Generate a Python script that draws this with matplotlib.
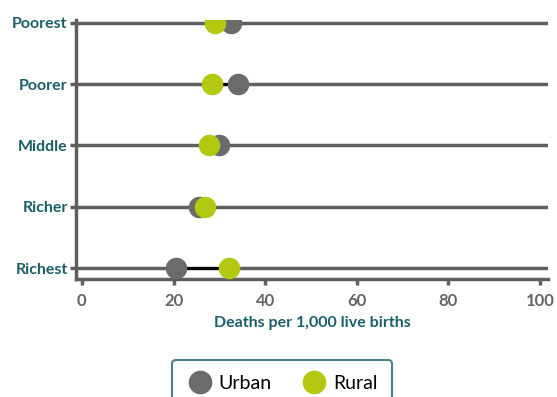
import numpy as np
import matplotlib.pyplot as plt
from matplotlib.lines import Line2D

# Datos
grupos = ["Poorest", "Poorer", "Middle", "Richer", "Richest"]
urbano = [32.5, 34, 30, 25.5, 20.5]
rural = [29, 28.3, 27.8, 26.8, 32.2]

gris = "#6b6b6b"
verde = "#b3c910"
teal = "#1b5f6b"

plt.rcParams['font.family'] = ['Lato', 'DejaVu Sans']

fig = plt.figure(figsize=(5.57, 3.97), dpi=100)
ax = fig.add_axes([0.1364, 0.297, 0.848, 0.653])

y = np.arange(len(grupos))[::-1]

for yi, u, r in zip(y, urbano, rural):
    ax.axhline(yi, color="#5f5f5f", lw=2.5, zorder=1)
    ax.plot([u, r], [yi, yi], color="black", lw=2.2, zorder=2)

ax.plot(urbano, y, 'o', ms=14.5, color=gris, zorder=3)
ax.plot(rural, y, 'o', ms=14.5, color=verde, zorder=4)

ax.set_xlim(-1.3, 101.8)
ax.set_ylim(-0.18, 4.05)
ax.set_yticks(y)
ax.set_yticklabels(grupos, fontsize=11.5, fontweight='bold', color=teal)
ax.set_xticks([0, 20, 40, 60, 80, 100])
ax.set_xticklabels(["0", "20", "40", "60", "80", "100"], fontsize=12, fontweight='bold', color="#666666")
ax.set_xlabel("Deaths per 1,000 live births", fontsize=11.5, fontweight='bold', color=teal, labelpad=5)

for s in ["top", "right"]:
    ax.spines[s].set_visible(False)
for s in ["left", "bottom"]:
    ax.spines[s].set_color("#5f5f5f")
    ax.spines[s].set_linewidth(2.5)
ax.tick_params(axis='both', color="#5f5f5f", width=2.5, length=4)
ax.tick_params(axis='y', pad=2)
ax.tick_params(axis='x', pad=6)

handles = [
    Line2D([], [], marker='o', ls='', ms=16, color=gris, label="Urban"),
    Line2D([], [], marker='o', ls='', ms=16, color=verde, label="Rural"),
]
leg = fig.legend(handles=handles, loc='upper center', bbox_to_anchor=(0.506, 0.093), ncol=2,
                 fontsize=14, frameon=True, fancybox=True, handletextpad=0.25,
                 handlelength=1.4, columnspacing=1.5, borderpad=0.75, borderaxespad=0)
leg.get_frame().set_edgecolor(teal)
leg.get_frame().set_linewidth(1.5)

fig.savefig("out.png", dpi=100)
